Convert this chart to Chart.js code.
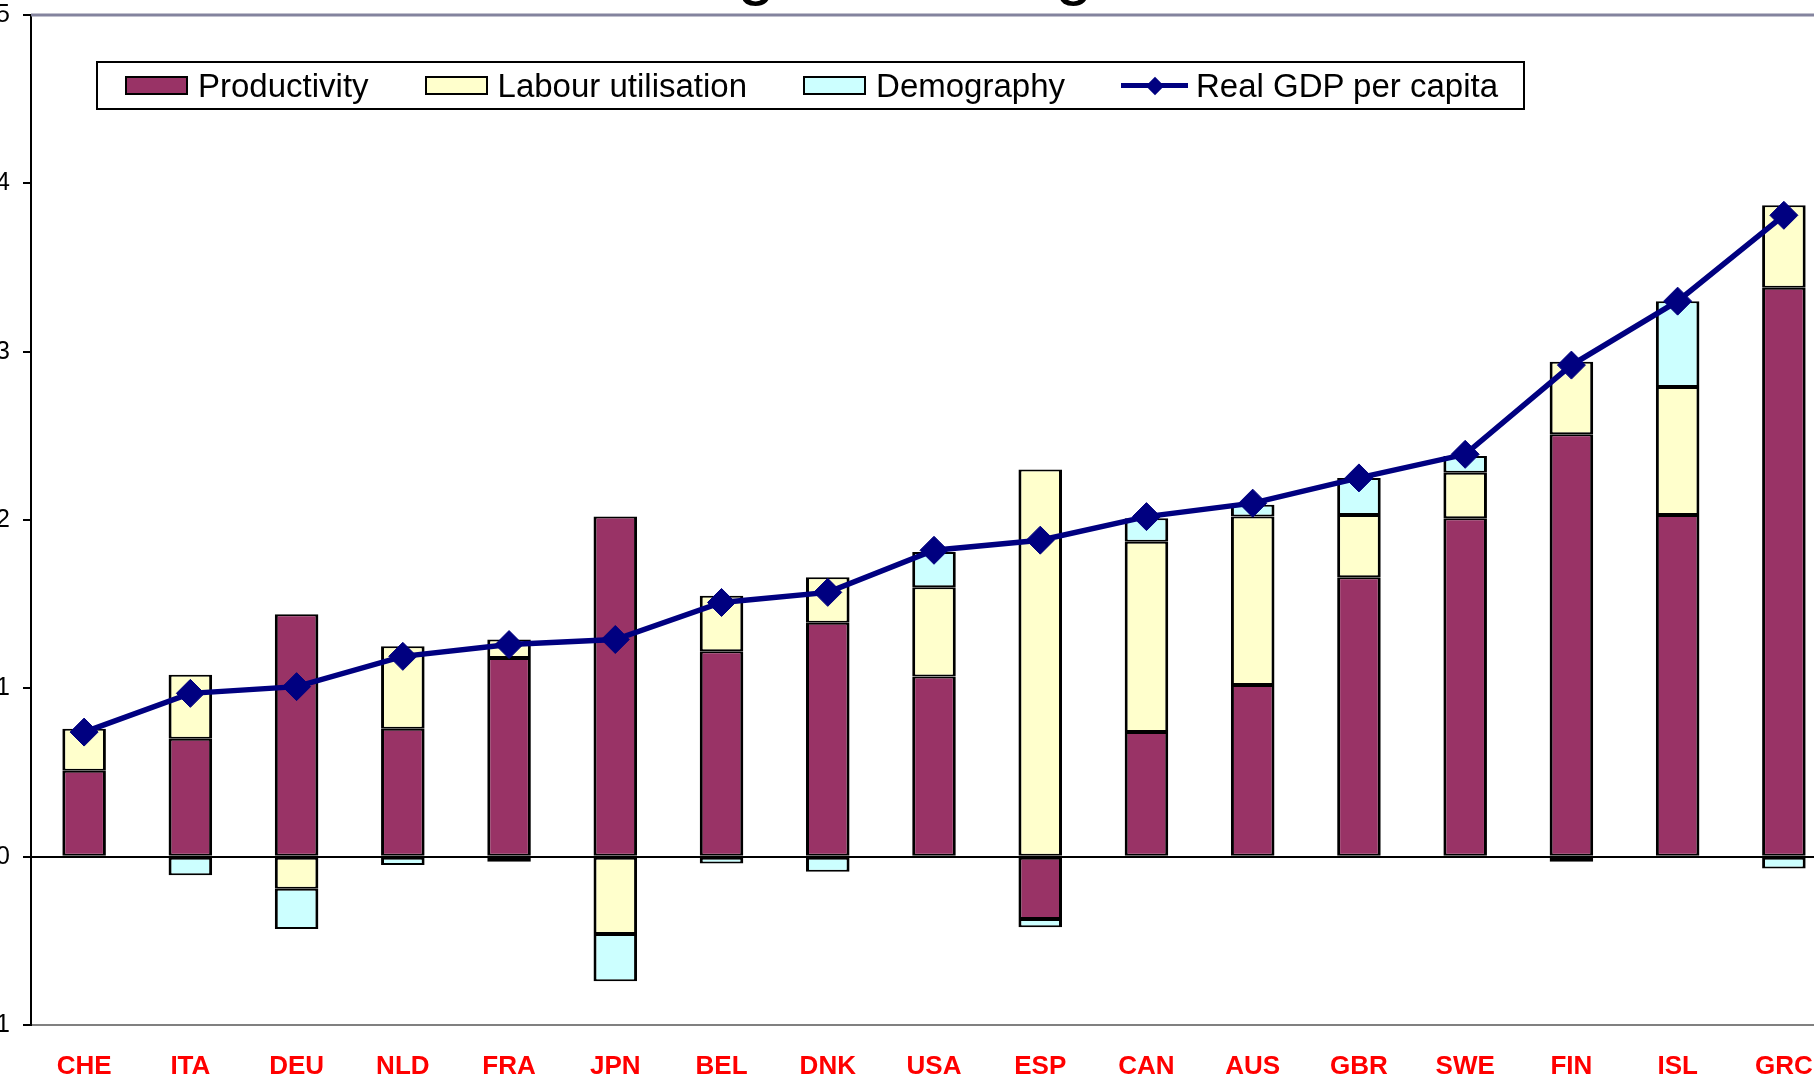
<!DOCTYPE html>
<html>
<head>
<meta charset="utf-8">
<script src="https://cdn.jsdelivr.net/npm/chart.js@4/dist/chart.umd.min.js"></script>
<style>
    html, body { margin: 0; padding: 0; background: #fff; overflow: hidden; }
    body { width: 1814px; height: 1078px; position: relative; }
    #chart { position: absolute; left: -29px; top: -55px; }
    #legend {
        position: absolute; left: 96px; top: 61px; width: 1429px; height: 49px;
        box-sizing: border-box; border: 2px solid #000;
        display: flex; align-items: center; padding-left: 27px;
        font: 33px "Liberation Sans", Arial, sans-serif; color: #000;
    }
    #legend .item { display: flex; align-items: center; margin-right: 56px; white-space: nowrap; }
    #legend .key-box { width: 63px; height: 19px; box-sizing: border-box; border: 2px solid #000; margin-right: 10px; }
    #legend .key-line { position: relative; width: 67px; height: 5px; margin-right: 8px; }
    #legend .key-line i {
        position: absolute; left: 50%; top: 50%; width: 13px; height: 13px;
        transform: translate(-50%, -50%) rotate(45deg);
    }
</style>
</head>
<body>
<canvas id="chart" width="1881" height="1136"></canvas>
<div id="legend"></div>
<script>
// data
const countries = ['CHE', 'ITA', 'DEU', 'NLD', 'FRA', 'JPN', 'BEL', 'DNK', 'USA', 'ESP', 'CAN', 'AUS', 'GBR', 'SWE', 'FIN', 'ISL', 'GRC'];
const productivity = [0.51, 0.70, 1.44, 0.76, 1.18, 2.02, 1.22, 1.39, 1.07, -0.37, 0.74, 1.02, 1.66, 2.01, 2.51, 2.03, 3.38];
const labourUtilisation = [0.25, 0.38, -0.19, 0.49, 0.11, -0.46, 0.33, 0.27, 0.53, 2.30, 1.13, 1.00, 0.37, 0.27, 0.43, 0.76, 0.49];
const demography = [null, -0.11, -0.24, -0.05, -0.03, -0.28, -0.04, -0.09, 0.21, -0.05, 0.14, 0.07, 0.22, 0.10, -0.03, 0.51, -0.07];
const realGdpPerCapita = [0.74, 0.97, 1.01, 1.19, 1.26, 1.29, 1.51, 1.57, 1.82, 1.88, 2.02, 2.10, 2.25, 2.39, 2.92, 3.30, 3.81];
const yMin = -1;
const yMax = 5;

const FONT = '"Liberation Sans", Arial, sans-serif';

function bar_set(label, values, color) {
    return {
        type: 'bar',
        label: label,
        data: values,
        backgroundColor: color,
        borderColor: '#000',
        borderWidth: {left: 3, right: 3, top: 2, bottom: 2},
        borderSkipped: false,
        barPercentage: 0.41,
        categoryPercentage: 1,
        order: 1,
    };
}

// gray frame line along the top of the plot
const plotFrame = {
    id: 'plotFrame',
    beforeDatasetsDraw(chart) {
        const {ctx, chartArea} = chart;
        ctx.save();
        ctx.strokeStyle = '#84849e';
        ctx.lineWidth = 3;
        ctx.beginPath();
        ctx.moveTo(chartArea.left, chartArea.top);
        ctx.lineTo(chartArea.right, chartArea.top);
        ctx.stroke();
        ctx.restore();
    }
};

const ctx = document.getElementById('chart').getContext('2d');
const chart = new Chart(ctx, {
    data: {
        labels: countries,
        datasets: [
            bar_set('Productivity', productivity, '#993366'),
            bar_set('Labour utilisation', labourUtilisation, '#FFFFCC'),
            bar_set('Demography', demography, '#CCFFFF'),
            {
                type: 'line',
                label: 'Real GDP per capita',
                data: realGdpPerCapita,
                stack: 'gdp',
                borderColor: '#000080',
                borderWidth: 5.5,
                pointStyle: 'rectRot',
                pointRadius: 14,
                pointBackgroundColor: '#000080',
                pointBorderColor: '#000080',
                pointBorderWidth: 1,
                tension: 0,
                order: 0,
            },
        ]
    },
    plugins: [plotFrame],
    options: {
        responsive: false,
        animation: false,
        layout: {padding: {left: 0, right: 3, top: 0, bottom: 0}},
        plugins: {
            legend: {display: false},
            tooltip: {enabled: false},
            title: {
                display: true,
                text: 'Average annual growth',
                color: '#000',
                font: {family: FONT, size: 68, weight: 'normal', lineHeight: 0.97},
                padding: {top: -5, bottom: 9},
            },
        },
        scales: {
            x: {
                stacked: true,
                offset: true,
                afterFit: s => { s.height = 56; },
                grid: {display: true, drawOnChartArea: false, drawTicks: false},
                border: {color: '#808080', width: 2},
                ticks: {
                    color: '#FF0000',
                    padding: 26,
                    font: {family: FONT, size: 26, weight: 'bold'},
                    maxRotation: 0,
                    autoSkip: false,
                },
            },
            y: {
                stacked: true,
                min: yMin,
                max: yMax,
                afterFit: s => { s.width = 60; },
                grid: {
                    color: c => (c.tick && c.tick.value === 0) ? '#000' : 'rgba(0,0,0,0)',
                    lineWidth: 2,
                    tickColor: '#000',
                    tickWidth: 2,
                    tickLength: 8,
                },
                border: {color: '#000', width: 2},
                ticks: {
                    stepSize: 1,
                    color: '#000',
                    padding: 13,
                    font: {family: FONT, size: 25},
                },
            },
        },
    },
});

// legend as html, built from the chart's datasets
function build_legend(chart) {
    const box = document.getElementById('legend');
    chart.data.datasets.forEach(ds => {
        const item = document.createElement('div');
        item.className = 'item';
        const key = document.createElement('span');
        if (ds.type === 'line') {
            key.className = 'key-line';
            key.style.background = ds.borderColor;
            const dot = document.createElement('i');
            dot.style.background = ds.pointBackgroundColor;
            key.appendChild(dot);
        } else {
            key.className = 'key-box';
            key.style.background = ds.backgroundColor;
        }
        const text = document.createElement('span');
        text.textContent = ds.label;
        item.appendChild(key);
        item.appendChild(text);
        box.appendChild(item);
    });
}

build_legend(chart);
</script>
</body>
</html>
